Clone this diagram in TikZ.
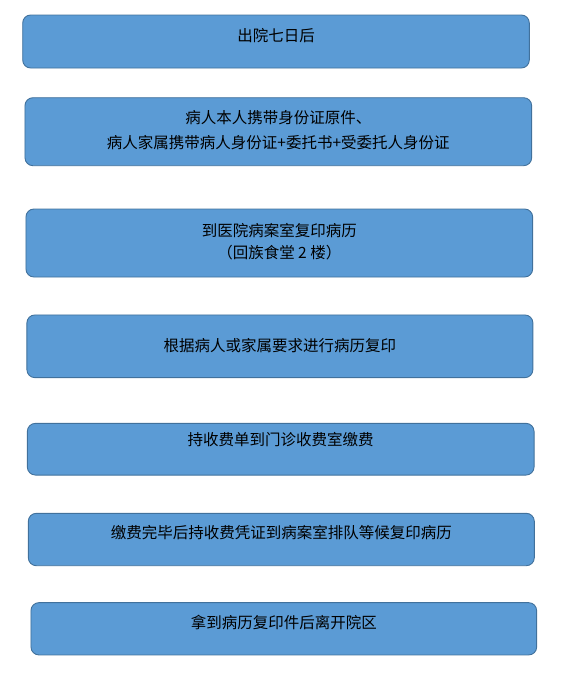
\documentclass[tikz,border=0pt]{standalone}
\usepackage{fontspec}
\newfontfamily\cjk{Noto Sans CJK SC}
\definecolor{boxfill}{HTML}{5B9BD5}
\definecolor{boxline}{HTML}{41719C}
\tikzset{
  stepbox/.style={draw=boxline, fill=boxfill, line width=0.9pt, rounded corners=8pt,
    inner sep=0pt, outer sep=0pt},
  steptext/.style={font=\cjk\fontsize{15.5}{24}\selectfont, text=black, align=center,
    inner sep=0pt, text height=12.9pt, text depth=2.6pt}
}
\begin{document}
\begin{tikzpicture}[x=1pt,y=-1pt]
\useasboundingbox (0,0) rectangle (572,680);
\node[stepbox, minimum width=506.6pt, minimum height=53pt] (b1) at (276,41.5) {};
\node[stepbox, minimum width=506.7pt, minimum height=68pt] (b2) at (278.3,131.7) {};
\node[stepbox, minimum width=506.7pt, minimum height=68pt] (b3) at (279.3,243) {};
\node[stepbox, minimum width=506pt, minimum height=62.7pt] (b4) at (279.9,346.3) {};
\node[stepbox, minimum width=506.7pt, minimum height=51.7pt] (b5) at (280.7,449.2) {};
\node[stepbox, minimum width=506pt, minimum height=52.4pt] (b6) at (281.3,539.5) {};
\node[stepbox, minimum width=505.7pt, minimum height=52.3pt] (b7) at (283.8,628.8) {};
\node[steptext] (t1) at (b1.center |- 0,36) {出院七日后};
\node[steptext, text height=, text depth=, font=\cjk\fontsize{15.5}{25}\selectfont] (t2) at (b2.center |- 0,130.5) {病人本人携带身份证原件、\\病人家属携带病人身份证+委托书+受委托人身份证};
\node[steptext, text height=, text depth=, font=\cjk\fontsize{15.5}{22}\selectfont] (t3) at (b3.center |- 0,242) {到医院病案室复印病历\\（回族食堂 2 楼）};
\node[steptext] (t4) at (b4.center |- 0,346.7) {根据病人或家属要求进行病历复印};
\node[steptext] (t5) at (b5.center |- 0,440) {持收费单到门诊收费室缴费};
\node[steptext] (t6) at (b6.center |- 0,533.3) {缴费完毕后持收费凭证到病案室排队等候复印病历};
\node[steptext] (t7) at (b7.center |- 0,623.3) {拿到病历复印件后离开院区};
\end{tikzpicture}
\end{document}
